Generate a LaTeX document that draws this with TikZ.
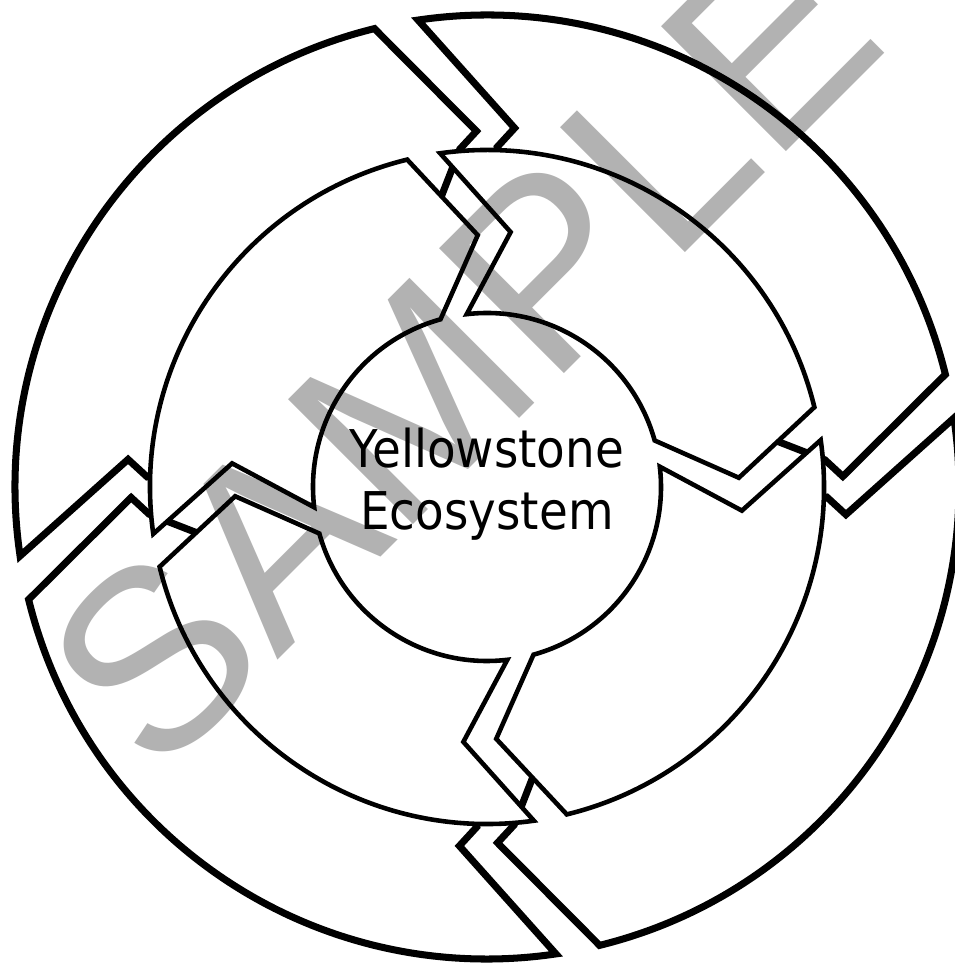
\documentclass[tikz,border=0pt]{standalone}
\usepackage{fontspec}
\newfontfamily\labelfont[FakeStretch=0.9]{DejaVu Sans}
\newfontfamily\markfont{Liberation Sans}
\tikzset{
  outerseg/.style={draw=black, fill=white, line width=2pt},
  innerseg/.style={draw=black, fill=white, line width=1.3pt},
  ringtext/.style={font=\labelfont\fontsize{14.8pt}{17.6pt}\selectfont, inner sep=0pt, anchor=base},
  sampletext/.style={font=\markfont\fontsize{73pt}{73pt}\selectfont, text=black!30, inner sep=0pt, rotate=45}
}
\begin{document}
\begin{tikzpicture}[x=0.01cm, y=0.01cm]
\useasboundingbox (-487,-477) rectangle (467,487);

% outer ring of arrows
\foreach \a in {90,0,-90,-180} {
  \pgfmathsetmacro\b{\a-90}
  \draw[outerseg] (\a+8.4:472) -- (\a-4.4:360) -- (\a-1.7:340) -- (\a-3:285)
    arc[start angle=\a-3, end angle=\b+10, radius=285]
    -- (\b+4.6:339) -- (\b+1.7:356) -- (\b+13.8:472)
    arc[start angle=\b+13.8, end angle=\a+8.4, radius=472] -- cycle;
}

% inner ring of arrows
\foreach \a in {90,0,-90,-180} {
  \pgfmathsetmacro\b{\a-90}
  \draw[innerseg] (\a+8:337) -- (\a-5.3:256) -- (\a+6.7:174)
    arc[start angle=\a+6.7, end angle=\b+15.5, radius=174]
    -- (\b+2.1:252) -- (\b+13.7:337)
    arc[start angle=\b+13.7, end angle=\a+8, radius=337] -- cycle;
}

\node[ringtext] (line1) at (0,19) {Yellowstone};
\node[ringtext] (line2) at (0,-43) {Ecosystem};

\begin{scope}[blend mode=multiply]
\node[sampletext] (sample) at (-25,136) {SAMPLE};
\end{scope}

\end{tikzpicture}
\end{document}
